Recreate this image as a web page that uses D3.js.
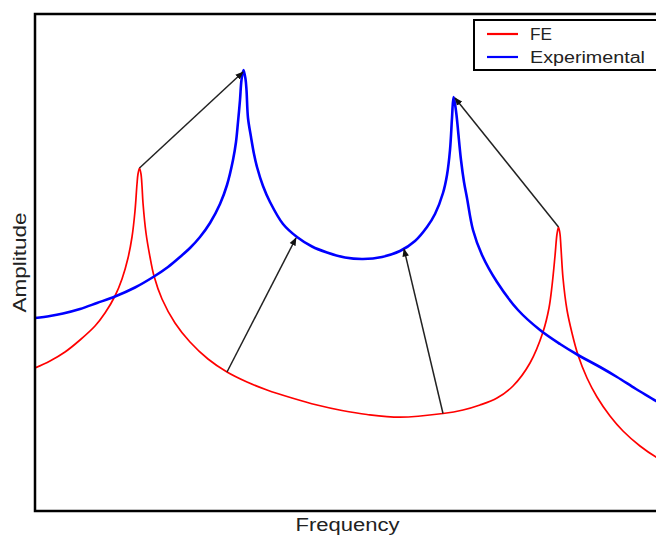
<!DOCTYPE html>
<html>
<head>
<meta charset="utf-8">
<script src="https://cdn.jsdelivr.net/npm/d3@7"></script>
<style>
  html, body { margin: 0; padding: 0; background: #fff; }
  svg { display: block; }
  text { font-family: "Liberation Sans", Arial, sans-serif; fill: #222; }
</style>
</head>
<body>
<svg id="chart" width="656" height="536"></svg>
<script>
// ---- data (frequency, amplitude in arbitrary units) ----
const feFreq = [0, 15, 30, 45, 60, 70, 80, 87, 93, 97, 100, 102, 103, 104.5, 106, 107, 108, 111, 115, 119, 127, 140, 155, 173, 192, 212, 232, 257, 282, 307, 332, 365, 408, 428, 445, 462, 478, 495, 508, 514, 517, 520, 522, 523.5, 525, 526, 528, 532, 537, 543, 552, 562, 575, 588, 605, 621, 625];
const feAmp  = [143, 150, 159, 171, 185, 198, 215, 232, 253, 274, 300, 327, 337, 343, 337, 325, 308, 278, 254, 235, 212, 188, 169, 152, 139, 129, 121, 113, 106, 100.5, 96.5, 93.8, 97.5, 101, 106, 113, 125, 148, 179, 203, 225, 255, 277, 284, 277, 263, 233, 201, 178, 156, 133, 114, 95, 80, 65, 54, 52];

const expFreq = [0, 15, 28, 45, 62, 80, 100, 119, 133, 145, 155, 165, 175, 185, 192, 198, 201, 203, 205, 206.5, 208.5, 210.5, 211.5, 213, 216, 219, 222, 228, 235, 248, 262, 277, 292, 310, 328, 347, 365, 380, 392, 400, 408, 412, 415, 417, 418.5, 420, 421.5, 423, 426, 429, 432, 438, 447, 462, 483, 505, 525, 543, 565, 582, 601, 621, 625];
const expAmp  = [193, 195, 197.5, 202, 208, 214.5, 223.5, 234.5, 244, 254, 263, 274, 288, 307, 326, 351, 369, 389, 411, 431, 441, 432, 421, 393, 374, 357, 344, 325, 309, 287, 274, 264.5, 258.5, 253.5, 252, 254, 260, 270, 284, 297, 318, 336, 361, 393, 414, 407, 396, 381, 351, 329, 313, 281, 256, 229, 201, 181, 167, 156, 144, 134, 122, 110, 107];

// arrows: FE mode -> experimental mode
const arrowFromFreq = [104.5, 192, 408, 523.5];
const arrowFromAmp  = [343, 139, 97.5, 284];
const arrowToFreq   = [208, 261, 369, 420];
const arrowToAmp    = [439, 273, 262, 413];

const seriesNames = ["FE", "Experimental"];
const seriesColors = ["#ff0000", "#0000ff"];
const xLabel = "Frequency";
const yLabel = "Amplitude";

// ---- layout ----
const svg = d3.select("#chart");
const mLeft = 35, mTop = 14, mRight = 660, mBottom = 511;

const x = d3.scaleLinear().domain([0, 625]).range([mLeft, mRight]);
const y = d3.scaleLinear().domain([0, 497]).range([mBottom, mTop]);

const defs = svg.append("defs");
defs.append("clipPath").attr("id", "clip")
  .append("rect").attr("x", mLeft).attr("y", mTop).attr("width", mRight - mLeft).attr("height", mBottom - mTop);

defs.append("marker")
  .attr("id", "arrowhead")
  .attr("viewBox", "0 0 10 10")
  .attr("refX", 9).attr("refY", 5)
  .attr("markerWidth", 5.5).attr("markerHeight", 5.5)
  .attr("markerUnits", "strokeWidth")
  .attr("orient", "auto")
  .append("path").attr("d", "M0,1 L10,5 L0,9 Z").attr("fill", "#111");

const plot = svg.append("g").attr("clip-path", "url(#clip)");

const line = d3.line()
  .x(d => x(d[0])).y(d => y(d[1]))
  .curve(d3.curveCatmullRom.alpha(0.5));

const feData = feFreq.map((f, i) => [f, feAmp[i]]);
const expData = expFreq.map((f, i) => [f, expAmp[i]]);

plot.append("path").datum(feData)
  .attr("d", line).attr("fill", "none")
  .attr("stroke", seriesColors[0]).attr("stroke-width", 1.7)
  .attr("stroke-linejoin", "round");

plot.append("path").datum(expData)
  .attr("d", line).attr("fill", "none")
  .attr("stroke", seriesColors[1]).attr("stroke-width", 2.6)
  .attr("stroke-linejoin", "round");

// arrows
arrowFromFreq.forEach((f, i) => {
  plot.append("line")
    .attr("x1", x(f)).attr("y1", y(arrowFromAmp[i]))
    .attr("x2", x(arrowToFreq[i])).attr("y2", y(arrowToAmp[i]))
    .attr("stroke", "#222").attr("stroke-width", 1.5)
    .attr("marker-end", "url(#arrowhead)");
});

// frame
svg.append("rect")
  .attr("x", mLeft).attr("y", mTop)
  .attr("width", mRight - mLeft).attr("height", mBottom - mTop)
  .attr("fill", "none").attr("stroke", "#000").attr("stroke-width", 2.5);

// axis titles
svg.append("text")
  .attr("x", (mLeft + 660) / 2).attr("y", 531)
  .attr("text-anchor", "middle")
  .attr("font-size", 18)
  .attr("textLength", 104).attr("lengthAdjust", "spacingAndGlyphs")
  .text(xLabel);

svg.append("text")
  .attr("transform", `translate(26,${(mTop + mBottom) / 2}) rotate(-90)`)
  .attr("text-anchor", "middle")
  .attr("font-size", 18)
  .attr("textLength", 100).attr("lengthAdjust", "spacingAndGlyphs")
  .text(yLabel);

// legend
const lg = svg.append("g");
lg.append("rect")
  .attr("x", 474).attr("y", 20).attr("width", 200).attr("height", 50)
  .attr("fill", "#fff").attr("stroke", "#000").attr("stroke-width", 2);
const legW = [22, 115];
seriesNames.forEach((name, i) => {
  const cy = 34 + i * 23;
  lg.append("line")
    .attr("x1", 487).attr("x2", 518).attr("y1", cy).attr("y2", cy)
    .attr("stroke", seriesColors[i]).attr("stroke-width", 2.2);
  lg.append("text")
    .attr("x", 530).attr("y", cy + 6)
    .attr("font-size", 16)
    .attr("textLength", legW[i]).attr("lengthAdjust", "spacingAndGlyphs")
    .text(name);
});
</script>
</body>
</html>
